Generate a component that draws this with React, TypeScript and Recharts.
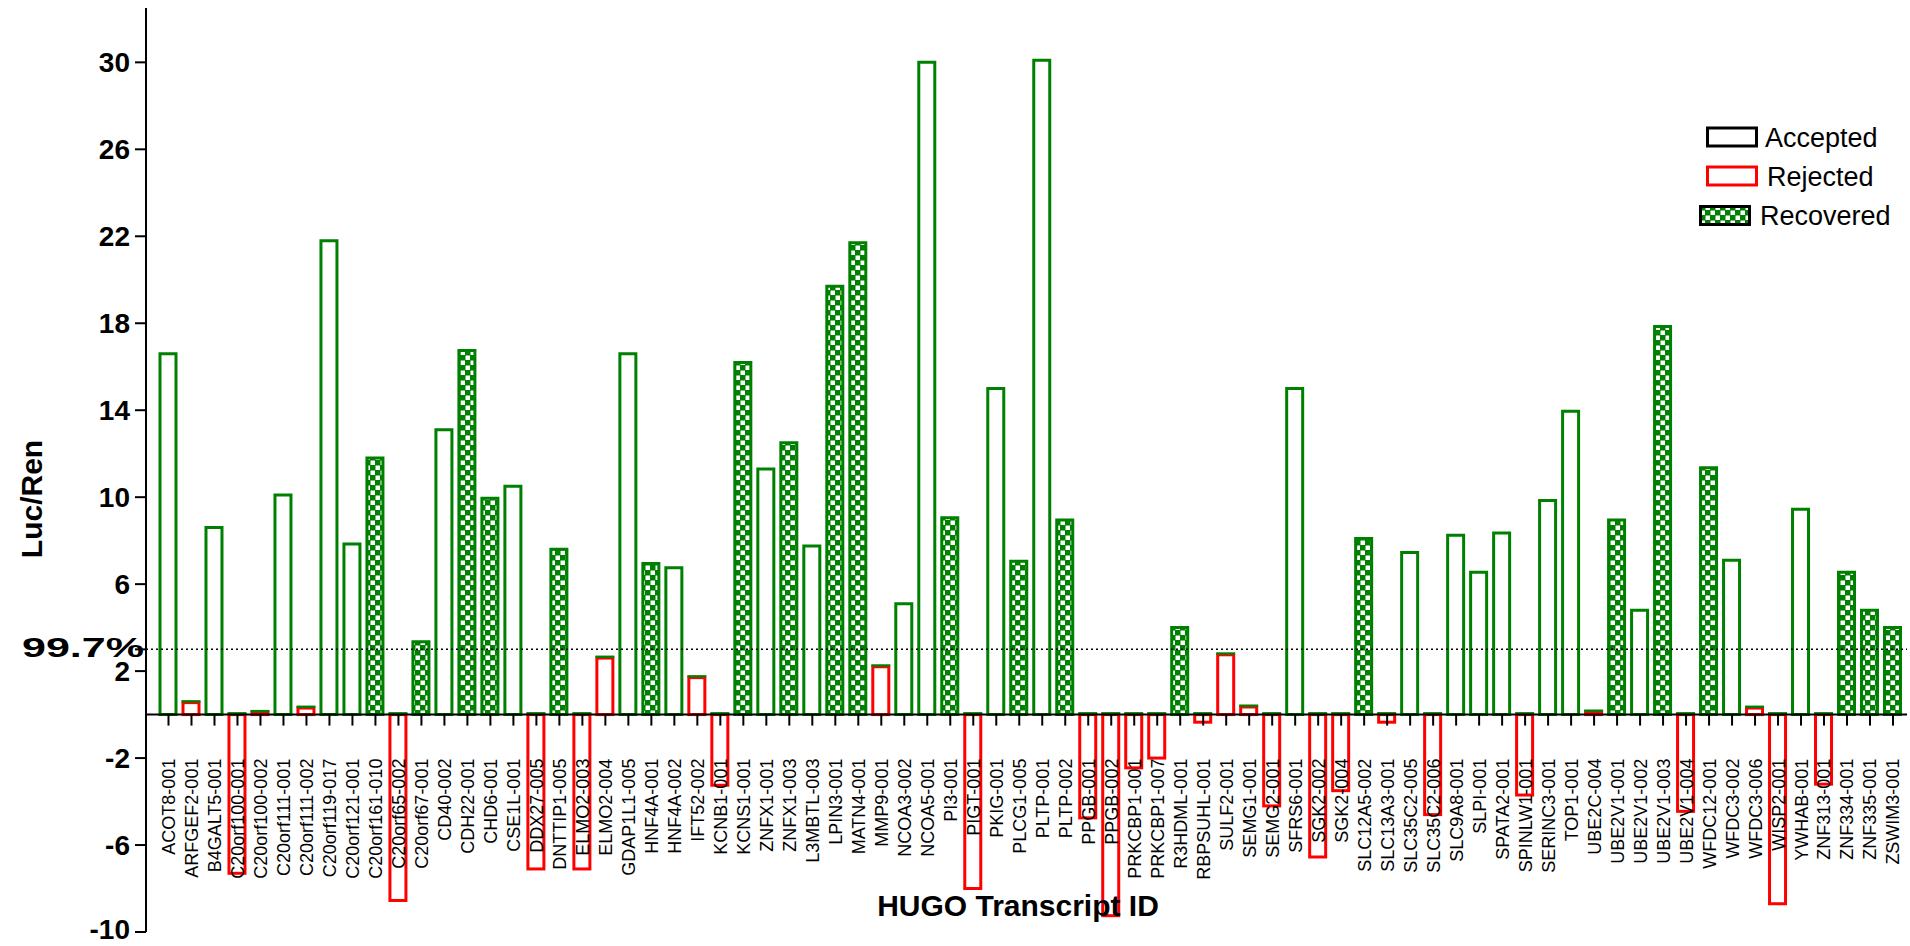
import React from 'react';
import { ComposedChart, Bar, Line, XAxis, YAxis, ReferenceLine } from 'recharts';

// HUGO transcript ids, left to right
const categories = [
  'ACOT8-001', 'ARFGEF2-001', 'B4GALT5-001', 'C20orf100-001', 'C20orf100-002', 'C20orf111-001',
  'C20orf111-002', 'C20orf119-017', 'C20orf121-001', 'C20orf161-010', 'C20orf65-002', 'C20orf67-001',
  'CD40-002', 'CDH22-001', 'CHD6-001', 'CSE1L-001', 'DDX27-005', 'DNTTIP1-005', 'ELMO2-003',
  'ELMO2-004', 'GDAP1L1-005', 'HNF4A-001', 'HNF4A-002', 'IFT52-002', 'KCNB1-001', 'KCNS1-001',
  'ZNFX1-001', 'ZNFX1-003', 'L3MBTL-003', 'LPIN3-001', 'MATN4-001', 'MMP9-001', 'NCOA3-002',
  'NCOA5-001', 'PI3-001', 'PIGT-001', 'PKIG-001', 'PLCG1-005', 'PLTP-001', 'PLTP-002', 'PPGB-001',
  'PPGB-002', 'PRKCBP1-001', 'PRKCBP1-007', 'R3HDML-001', 'RBPSUHL-001', 'SULF2-001', 'SEMG1-001',
  'SEMG2-001', 'SFRS6-001', 'SGK2-002', 'SGK2-004', 'SLC12A5-002', 'SLC13A3-001', 'SLC35C2-005',
  'SLC35C2-006', 'SLC9A8-001', 'SLPI-001', 'SPATA2-001', 'SPINLW1-001', 'SERINC3-001', 'TOP1-001',
  'UBE2C-004', 'UBE2V1-001', 'UBE2V1-002', 'UBE2V1-003', 'UBE2V1-004', 'WFDC12-001', 'WFDC3-002',
  'WFDC3-006', 'WISP2-001', 'YWHAB-001', 'ZNF313-001', 'ZNF334-001', 'ZNF335-001', 'ZSWIM3-001',
];

// Luc/Ren ratio per transcript
const lucRen = [
  16.6, 0.55, 8.6, -7.3, 0.1, 10.1,
  0.3, 21.8, 7.85, 11.8, -8.55, 3.35,
  13.1, 16.75, 9.95, 10.5, -7.1, 7.6, -7.1,
  2.6, 16.6, 6.95, 6.75, 1.7, -3.25, 16.2,
  11.3, 12.5, 7.75, 19.7, 21.7, 2.2, 5.1,
  30.0, 9.05, -8.0, 15.0, 7.05, 30.1, 8.95, -4.75,
  -9.25, -2.45, -2.0, 4.0, -0.35, 2.75, 0.35,
  -4.2, 15.0, -6.55, -3.5, 8.1, -0.35, 7.45,
  -4.6, 8.25, 6.55, 8.35, -3.7, 9.85, 13.95,
  0.12, 8.95, 4.8, 17.85, -4.45, 11.35, 7.1,
  0.3, -8.7, 9.45, -3.2, 6.55, 4.8, 4.0,
];

// A = accepted, R = rejected, V = recovered
const status = [
  'A', 'R', 'A', 'R', 'R', 'A',
  'R', 'A', 'A', 'V', 'R', 'V',
  'A', 'V', 'V', 'A', 'R', 'V', 'R',
  'R', 'A', 'V', 'A', 'R', 'R', 'V',
  'A', 'V', 'A', 'V', 'V', 'R', 'A',
  'A', 'V', 'R', 'A', 'V', 'A', 'V', 'R',
  'R', 'R', 'R', 'V', 'R', 'R', 'R',
  'R', 'A', 'R', 'R', 'V', 'R', 'A',
  'R', 'A', 'A', 'A', 'R', 'A', 'A',
  'R', 'V', 'A', 'V', 'R', 'V', 'A',
  'R', 'R', 'A', 'R', 'V', 'V', 'V',
];

const yTicks = [-10, -6, -2, 2, 3, 6, 10, 14, 18, 22, 26, 30];
const cutoff = 3;
const cutoffLabel = '99.7%';

const GREEN = '#008000';
const RED = '#ff0000';
const FONT = 'Arial, "Liberation Sans", sans-serif';

const rows = categories.map((name, i) => ({
  name,
  accepted: status[i] === 'A' ? lucRen[i] : null,
  rejected: status[i] === 'R' ? lucRen[i] : null,
  recovered: status[i] === 'V' ? lucRen[i] : null,
}));

// red box whose upper edge is drawn green, as in the original
function RejectedBar(props: any) {
  const { x, y, width, height, payload } = props;
  if (payload == null || payload.rejected == null || x == null) return <g />;
  const top = Math.min(y, y + height);
  const h = Math.abs(height);
  return (
    <g>
      <rect x={x} y={top} width={width} height={h} fill="#fff" stroke={RED} strokeWidth={3} />
      <line x1={x - 1.5} x2={x + width + 1.5} y1={top - 1.3} y2={top - 1.3} stroke={GREEN} strokeWidth={2.4} />
    </g>
  );
}

// tick mark + rotated id hanging under the zero line
function renderCategoryTick(props: any) {
  const { cx, cy, index } = props;
  if (cx == null || cy == null) return <g key={`t${index}`} />;
  const ly = cy + 44;
  return (
    <g key={`t${index}`}>
      <line x1={cx} x2={cx} y1={cy} y2={cy + 11} stroke="#000" strokeWidth={2} />
      <text
        x={cx}
        y={ly}
        dy="0.36em"
        textAnchor="end"
        transform={`rotate(-90, ${cx}, ${ly})`}
        fontSize={18}
        fontFamily={FONT}
        fill="#000"
      >
        {categories[index]}
      </text>
    </g>
  );
}

function renderYTick(props: any) {
  const { x, y, payload } = props;
  if (payload.value === cutoff) {
    return (
      <text
        x={x + 14}
        y={y - 2}
        dy="0.36em"
        textAnchor="end"
        fontSize={28}
        fontWeight="bold"
        fontFamily={FONT}
        fill="#000"
        textLength={122}
        lengthAdjust="spacingAndGlyphs"
      >
        {cutoffLabel}
      </text>
    );
  }
  // keep the lowest label inside the picture
  const shift = payload.value === yTicks[0] ? -3 : 0;
  return (
    <text x={x} y={y + shift} dy="0.36em" textAnchor="end" fontSize={28} fontWeight="bold" fontFamily={FONT} fill="#000">
      {payload.value}
    </text>
  );
}

const legendItems = [
  { label: 'Accepted', stroke: '#000', fill: '#fff', sx: 1707.5, tx: 1765, cy: 137 },
  { label: 'Rejected', stroke: RED, fill: '#fff', sx: 1707.5, tx: 1767, cy: 176 },
  { label: 'Recovered', stroke: '#000', fill: 'url(#checkerLegend)', sx: 1700.5, tx: 1760, cy: 215.5 },
];

function Checker({ id }: { id: string }) {
  return (
    <pattern id={id} width="10" height="10" patternUnits="userSpaceOnUse">
      <rect width="10" height="10" fill={GREEN} />
      <rect x="0.5" y="0.5" width="4.5" height="4.5" fill="#fff" />
      <rect x="5.5" y="5.5" width="4.5" height="4.5" fill="#fff" />
    </pattern>
  );
}

export default function App() {
  return (
    <div style={{ position: 'absolute', left: 0, top: 0, width: 1910, height: 946, background: '#fff' }}>
      <ComposedChart
        width={1910}
        height={946}
        data={rows}
        margin={{ top: 8, right: 3, bottom: 14, left: 0 }}
        barSize={16}
        barGap={-16}
      >
        <defs>
          <Checker id="checker" />
        </defs>
        <XAxis
          dataKey="name"
          tick={false}
          tickLine={false}
          height={0}
          padding={{ left: 11, right: 2.5 }}
          axisLine={{ stroke: '#000', strokeWidth: 2 }}
        />
        <XAxis
          xAxisId="top"
          orientation="top"
          dataKey="name"
          tick={false}
          tickLine={false}
          height={0}
          axisLine={{ stroke: '#555', strokeWidth: 2 }}
        />
        <YAxis
          type="number"
          domain={[-10, 32.5]}
          ticks={yTicks}
          interval={0}
          allowDataOverflow
          width={146}
          tickSize={11}
          tickMargin={5}
          axisLine={{ stroke: '#000', strokeWidth: 2 }}
          tickLine={{ stroke: '#000', strokeWidth: 2 }}
          tick={renderYTick}
          label={{
            content: (p: any) => {
              const cx = p.viewBox.x + 31;
              const cy = p.viewBox.y + p.viewBox.height / 2 + 29;
              return (
                <text
                  x={cx}
                  y={cy}
                  dy="0.36em"
                  textAnchor="middle"
                  transform={`rotate(-90, ${cx}, ${cy})`}
                  fontSize={30}
                  fontWeight="bold"
                  fontFamily={FONT}
                  fill="#000"
                >
                  Luc/Ren
                </text>
              );
            },
          }}
        />
        <YAxis
          yAxisId="right"
          orientation="right"
          domain={[-10, 32.5]}
          width={0}
          tick={false}
          tickLine={false}
          axisLine={{ stroke: '#555', strokeWidth: 2 }}
        />
        <ReferenceLine y={cutoff} stroke="#000" strokeWidth={1.5} strokeDasharray="2 3" />
        <Bar dataKey="accepted" fill="#fff" stroke={GREEN} strokeWidth={3} isAnimationActive={false} />
        <Bar dataKey="rejected" shape={RejectedBar} isAnimationActive={false} />
        <Bar dataKey="recovered" fill="url(#checker)" stroke={GREEN} strokeWidth={3} isAnimationActive={false} />
        <ReferenceLine y={0} stroke="#000" strokeWidth={2} />
        <Line
          dataKey={() => 0}
          stroke="none"
          dot={renderCategoryTick}
          activeDot={false}
          legendType="none"
          isAnimationActive={false}
        />
      </ComposedChart>
      <svg width={1910} height={946} style={{ position: 'absolute', left: 0, top: 0, pointerEvents: 'none' }}>
        <defs>
          <Checker id="checkerLegend" />
        </defs>
        <text x={1018} y={916} textAnchor="middle" fontSize={30} fontWeight="bold" fontFamily={FONT} fill="#000">
          HUGO Transcript ID
        </text>
        {legendItems.map((it) => (
          <g key={it.label}>
            <rect x={it.sx} y={it.cy - 9} width={49} height={18} fill={it.fill} stroke={it.stroke} strokeWidth={3} />
            <text x={it.tx} y={it.cy} dy="0.36em" fontSize={27} fontFamily={FONT} fill="#000">
              {it.label}
            </text>
          </g>
        ))}
      </svg>
    </div>
  );
}
